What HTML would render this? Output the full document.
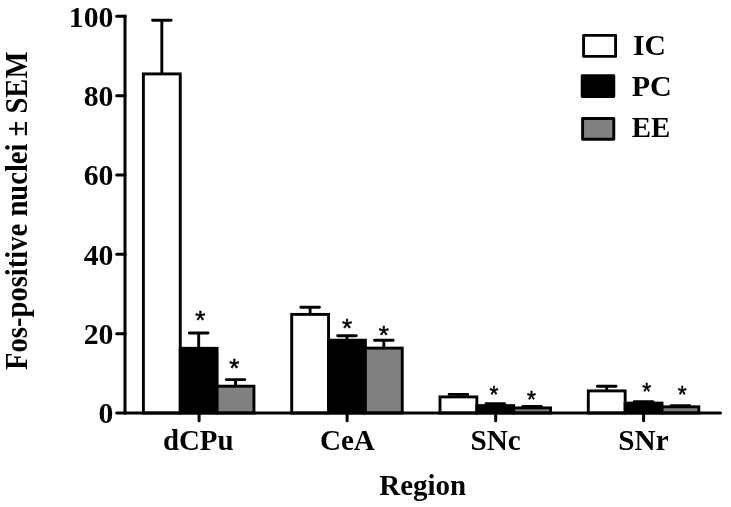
<!DOCTYPE html>
<html><head><meta charset="utf-8"><title>Fos-positive nuclei</title>
<style>
html,body{margin:0;padding:0;background:#fff;}
svg{display:block;}
text{font-family:"Liberation Serif","Times New Roman",serif;font-weight:bold;fill:#000;}
.st{font-family:"Liberation Sans",Arial,sans-serif;font-weight:normal;}
</style></head><body>
<svg width="731" height="507" viewBox="0 0 731 507">
<rect x="0" y="0" width="731" height="507" fill="#ffffff"/>

<path d="M161.83 73.90V20.30M152.53 20.30H171.13" stroke="#000" stroke-width="2.9" fill="none" stroke-linecap="round"/>
<rect x="143.40" y="73.90" width="36.85" height="339.10" fill="#ffffff" stroke="#000" stroke-width="2.9" stroke-linejoin="miter"/>
<path d="M198.68 348.30V333.00M189.38 333.00H207.98" stroke="#000" stroke-width="2.9" fill="none" stroke-linecap="round"/>
<rect x="180.25" y="348.30" width="36.85" height="64.70" fill="#000000" stroke="#000" stroke-width="2.9" stroke-linejoin="miter"/>
<path d="M235.53 386.20V379.60M226.23 379.60H244.83" stroke="#000" stroke-width="2.9" fill="none" stroke-linecap="round"/>
<rect x="217.10" y="386.20" width="36.85" height="26.80" fill="#808080" stroke="#000" stroke-width="2.9" stroke-linejoin="miter"/>
<path d="M310.12 314.40V307.30M300.82 307.30H319.43" stroke="#000" stroke-width="2.9" fill="none" stroke-linecap="round"/>
<rect x="291.70" y="314.40" width="36.85" height="98.60" fill="#ffffff" stroke="#000" stroke-width="2.9" stroke-linejoin="miter"/>
<path d="M346.98 340.20V335.70M337.68 335.70H356.28" stroke="#000" stroke-width="2.9" fill="none" stroke-linecap="round"/>
<rect x="328.55" y="340.20" width="36.85" height="72.80" fill="#000000" stroke="#000" stroke-width="2.9" stroke-linejoin="miter"/>
<path d="M383.82 348.10V340.20M374.52 340.20H393.12" stroke="#000" stroke-width="2.9" fill="none" stroke-linecap="round"/>
<rect x="365.40" y="348.10" width="36.85" height="64.90" fill="#808080" stroke="#000" stroke-width="2.9" stroke-linejoin="miter"/>
<path d="M458.43 396.90V394.40M449.12 394.40H467.73" stroke="#000" stroke-width="2.9" fill="none" stroke-linecap="round"/>
<rect x="440.00" y="396.90" width="36.85" height="16.10" fill="#ffffff" stroke="#000" stroke-width="2.9" stroke-linejoin="miter"/>
<path d="M495.28 405.60V403.70M485.98 403.70H504.58" stroke="#000" stroke-width="2.9" fill="none" stroke-linecap="round"/>
<rect x="476.85" y="405.60" width="36.85" height="7.40" fill="#000000" stroke="#000" stroke-width="2.9" stroke-linejoin="miter"/>
<path d="M532.12 407.90V406.50M522.83 406.50H541.42" stroke="#000" stroke-width="2.9" fill="none" stroke-linecap="round"/>
<rect x="513.70" y="407.90" width="36.85" height="5.10" fill="#808080" stroke="#000" stroke-width="2.9" stroke-linejoin="miter"/>
<path d="M606.72 390.90V386.30M597.42 386.30H616.02" stroke="#000" stroke-width="2.9" fill="none" stroke-linecap="round"/>
<rect x="588.30" y="390.90" width="36.85" height="22.10" fill="#ffffff" stroke="#000" stroke-width="2.9" stroke-linejoin="miter"/>
<path d="M643.57 403.10V401.60M634.27 401.60H652.87" stroke="#000" stroke-width="2.9" fill="none" stroke-linecap="round"/>
<rect x="625.15" y="403.10" width="36.85" height="9.90" fill="#000000" stroke="#000" stroke-width="2.9" stroke-linejoin="miter"/>
<path d="M680.42 406.80V405.60M671.12 405.60H689.72" stroke="#000" stroke-width="2.9" fill="none" stroke-linecap="round"/>
<rect x="662.00" y="406.80" width="36.85" height="6.20" fill="#808080" stroke="#000" stroke-width="2.9" stroke-linejoin="miter"/>
<path d="M125 16.30V413.00" stroke="#000" stroke-width="3.05" fill="none" stroke-linecap="square"/>
<path d="M116.7 413.00H720.5" stroke="#000" stroke-width="3.05" fill="none" stroke-linecap="round"/>
<path d="M116.7 333.66H125" stroke="#000" stroke-width="3" fill="none" stroke-linecap="round"/>
<path d="M116.7 254.32H125" stroke="#000" stroke-width="3" fill="none" stroke-linecap="round"/>
<path d="M116.7 174.98H125" stroke="#000" stroke-width="3" fill="none" stroke-linecap="round"/>
<path d="M116.7 95.64H125" stroke="#000" stroke-width="3" fill="none" stroke-linecap="round"/>
<path d="M116.7 16.30H125" stroke="#000" stroke-width="3" fill="none" stroke-linecap="round"/>
<path d="M199.10 413.00V420.7" stroke="#000" stroke-width="3" fill="none" stroke-linecap="round"/>
<path d="M347.10 413.00V420.7" stroke="#000" stroke-width="3" fill="none" stroke-linecap="round"/>
<path d="M495.70 413.00V420.7" stroke="#000" stroke-width="3" fill="none" stroke-linecap="round"/>
<path d="M643.60 413.00V420.7" stroke="#000" stroke-width="3" fill="none" stroke-linecap="round"/>
<text transform="translate(98.49 423.30) scale(0.9900 1)" font-size="30">0</text>
<text transform="translate(83.64 343.96) scale(0.9900 1)" font-size="30">20</text>
<text transform="translate(83.64 264.62) scale(0.9900 1)" font-size="30">40</text>
<text transform="translate(83.64 185.28) scale(0.9900 1)" font-size="30">60</text>
<text transform="translate(83.64 105.94) scale(0.9900 1)" font-size="30">80</text>
<text transform="translate(68.79 26.60) scale(0.9900 1)" font-size="30">100</text>
<text transform="translate(162.94 449.80) scale(0.9722 1)" font-size="29.7">dCPu</text>
<text transform="translate(319.89 449.80) scale(0.9793 1)" font-size="29.7">CeA</text>
<text transform="translate(470.44 449.80) scale(0.9825 1)" font-size="29.7">SNc</text>
<text transform="translate(618.34 449.80) scale(0.9836 1)" font-size="29.7">SNr</text>
<text transform="translate(379.27 494.90) scale(0.9826 1)" font-size="29.5">Region</text>
<text transform="translate(633.11 54.80) scale(1.0010 1)" font-size="29.5">IC</text>
<text transform="translate(631.75 95.60) scale(1.0176 1)" font-size="29.5">PC</text>
<text transform="translate(631.87 137.40) scale(0.9780 1)" font-size="29.5">EE</text>
<text transform="translate(26.60 369.93) rotate(-90) scale(0.9350 1)" font-size="30.6">Fos-positive nuclei ± SEM</text>
<text class="st" stroke="#000" stroke-width="0.5" x="200.36" y="329.26" font-size="26" text-anchor="middle">*</text>
<text class="st" stroke="#000" stroke-width="0.5" x="234.26" y="377.26" font-size="26" text-anchor="middle">*</text>
<text class="st" stroke="#000" stroke-width="0.5" x="347.01" y="336.66" font-size="26" text-anchor="middle">*</text>
<text class="st" stroke="#000" stroke-width="0.5" x="383.91" y="344.26" font-size="26" text-anchor="middle">*</text>
<text class="st" stroke="#000" stroke-width="0.5" x="494.03" y="403.23" font-size="23" text-anchor="middle">*</text>
<text class="st" stroke="#000" stroke-width="0.5" x="531.43" y="407.73" font-size="23" text-anchor="middle">*</text>
<text class="st" stroke="#000" stroke-width="0.5" x="646.63" y="400.13" font-size="23" text-anchor="middle">*</text>
<text class="st" stroke="#000" stroke-width="0.5" x="682.33" y="403.43" font-size="23" text-anchor="middle">*</text>
<rect x="583.6" y="35.4" width="32" height="21" fill="#ffffff" stroke="#000" stroke-width="2.9" stroke-linejoin="round"/>
<rect x="582.2" y="75.7" width="31.6" height="20.8" fill="#000000" stroke="#000" stroke-width="2.9" stroke-linejoin="round"/>
<rect x="582.6" y="118.5" width="31.2" height="20.8" fill="#808080" stroke="#000" stroke-width="2.9" stroke-linejoin="round"/>
</svg></body></html>
